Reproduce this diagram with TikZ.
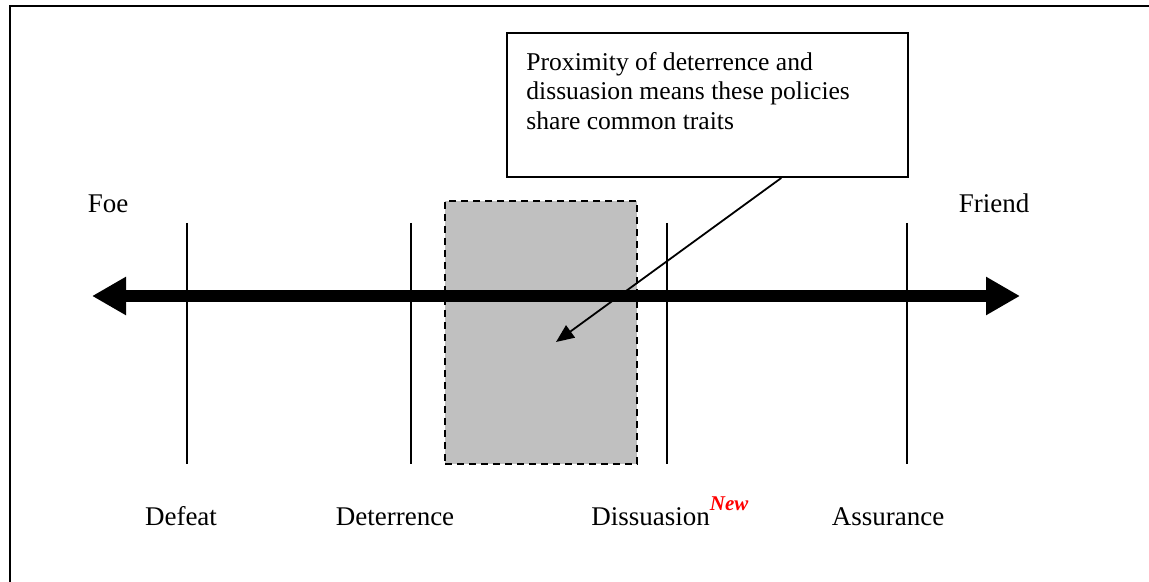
\documentclass[tikz,border=0pt]{standalone}
\usepackage{fontspec}
\setmainfont{Liberation Serif}
\usetikzlibrary{arrows.meta, positioning, calc}
\definecolor{shade}{RGB}{192,192,192}

\begin{document}
\begin{tikzpicture}[x=0.5pt, y=-0.5pt,
    word/.style={font=\fontsize{13.5}{15}\selectfont, inner sep=0pt, anchor=base},
    zone/.style={draw, dashed, dash pattern=on 3.5pt off 2.5pt, line width=1pt, fill=shade, inner sep=0pt, anchor=north west},
    axis/.style={line width=6pt, {Triangle[length=17pt, width=18pt]}-{Triangle[length=17pt, width=18pt]}},
    marker/.style={line width=0.75pt}]

    \useasboundingbox (0,0) rectangle (1149,582);
    \draw[line width=1pt] (10,582) -- (10,6) -- (1149,6);

    % overlap of deterrence and dissuasion
    \node[zone, minimum width=96pt, minimum height=131.5pt] (overlap) at (444,200) {};

    \coordinate (west) at (92,296);
    \coordinate (east) at (1020,296);
    \draw[axis] (west) -- (east);

    \foreach \x in {187,411,667,907}
        \draw[marker] (\x,223) -- (\x,464);

    \node[word] (foe) at (108,213) {Foe};
    \node[word] (friend) at (994,213) {Friend};

    \node[word] (defeat) at (181,525) {Defeat};
    \node[word] (deterrence) at (395,525) {Deterrence};
    \node[word, anchor=base west] (dissuasion) at (591,525) {Dissuasion\raisebox{7.5pt}{\fontsize{10.5}{10.5}\selectfont\color{red}\bfseries\itshape New}};
    \node[word] (assurance) at (888,525) {Assurance};

    % callout
    \node[draw, line width=1pt, minimum width=200.5pt, minimum height=72pt, inner sep=0pt, anchor=north west] (callout) at (506,32) {};
    \node[word, font=\fontsize{12.8}{14.7}\selectfont, anchor=north west, align=left] (note) at (526,52) {Proximity of deterrence and\\dissuasion means these policies\\share common traits};

    \coordinate (target) at (556,342);
    \draw[line width=0.9pt, -{Triangle[length=9pt, width=7.5pt]}] ($(callout.south west)!0.683!(callout.south east)$) -- (target);
\end{tikzpicture}
\end{document}
